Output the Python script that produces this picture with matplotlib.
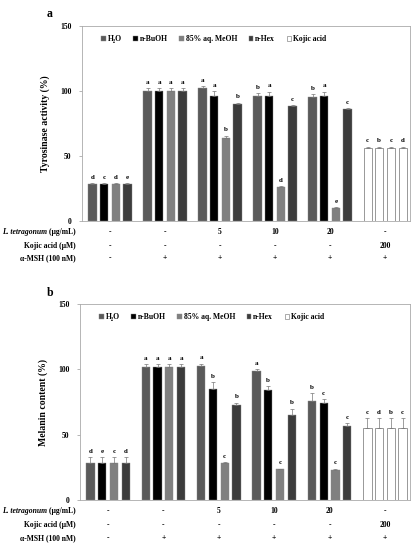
import matplotlib.pyplot as plt
from matplotlib.patches import Patch
from matplotlib.transforms import blended_transform_factory
import numpy as np

# ---- data ----
series = ['H\u2082O', 'n-BuOH', '85% aq. MeOH', 'n-Hex']
colors = ['#5a5a5a', '#000000', '#808080', '#3c3c3c']

# panel a: tyrosinase activity (groups: control, a-MSH, 5, 10, 20)
tyr_h2o = [28, 100, 102, 96, 95]
tyr_buoh = [28, 100, 96, 96, 96]
tyr_meoh = [28, 100, 64, 26, 10]
tyr_hex = [28, 100, 90, 88, 86]
tyr_kojic = [56, 56, 56, 56]
tyr_h2o_err = [1, 2, 1.5, 2.5, 2.5]
tyr_buoh_err = [1, 2, 4, 3.5, 3.5]
tyr_meoh_err = [1, 2, 1.5, 0.8, 0.5]
tyr_hex_err = [1, 2, 1, 1.2, 1]
tyr_kojic_err = [1, 1, 1, 1]
tyr_h2o_let = ['d', 'a', 'a', 'b', 'b']
tyr_buoh_let = ['c', 'a', 'a', 'a', 'a']
tyr_meoh_let = ['d', 'a', 'b', 'd', 'e']
tyr_hex_let = ['e', 'a', 'b', 'c', 'c']
tyr_kojic_let = ['c', 'b', 'c', 'd']

# panel b: melanin content
mel_h2o = [28, 102, 102.5, 99, 76]
mel_buoh = [28, 102, 85, 84.5, 74]
mel_meoh = [28, 102, 28, 23.5, 23]
mel_hex = [28, 102, 73, 65.5, 57]
mel_kojic = [55, 55, 55, 55]
mel_h2o_err = [5, 2, 2, 1, 6]
mel_buoh_err = [5, 2, 5.5, 3, 3.5]
mel_meoh_err = [5, 2, 1, 0.5, 1]
mel_hex_err = [5, 2, 1.5, 4.5, 2]
mel_kojic_err = [8, 8, 8, 8]
mel_h2o_let = ['d', 'a', 'a', 'a', 'b']
mel_buoh_let = ['e', 'a', 'b', 'b', 'c']
mel_meoh_let = ['c', 'a', 'c', 'c', 'c']
mel_hex_let = ['d', 'a', 'b', 'b', 'c']
mel_kojic_let = ['c', 'd', 'b', 'c']

species = 'L. tetragonum'
row_labels = [' (\u03bcg/mL)', 'Kojic acid (\u03bcM)', '\u03b1-MSH (100 nM)']
row_ltet = ['-', '-', '5', '10', '20', '-']
row_kojic = ['-', '-', '-', '-', '-', '200']
row_msh = ['-', '+', '+', '+', '+', '+']

FONT = ['Liberation Serif', 'DejaVu Serif']
plt.rcParams['font.family'] = FONT
plt.rcParams['font.weight'] = 'bold'

fig = plt.figure(figsize=(4.2, 5.5), dpi=100)
renderer = fig.canvas.get_renderer()

step = 0.212
width = 0.15
offsets = (np.arange(4) - 1.5) * step
label_x = 0.181  # right edge of the row labels (figure fraction)


def draw_panel(ax, vals, errs, lets, kvals, kerrs, klets, ylabel):
    x = np.arange(5)
    # extract bars
    for i in range(4):
        ax.bar(x + offsets[i], vals[i], width, color=colors[i],
               edgecolor='#888888', linewidth=0.3, zorder=2)
        ax.errorbar(x + offsets[i], vals[i], yerr=[np.zeros(5), errs[i]],
                    fmt='none', ecolor='#777777', elinewidth=0.5,
                    capsize=1.2, capthick=0.5, zorder=3)
        for xi, v, e, l in zip(x + offsets[i], vals[i], errs[i], lets[i]):
            ax.text(xi, v + e + 2.5, l, ha='center', va='bottom',
                    fontsize=5, fontweight='bold')
    # kojic acid bars
    kx = 5 + offsets
    ax.bar(kx, kvals, width, color='white', edgecolor='#888888',
           linewidth=0.6, zorder=2)
    ax.errorbar(kx, kvals, yerr=[np.zeros(4), kerrs], fmt='none',
                ecolor='#777777', elinewidth=0.5, capsize=1.2,
                capthick=0.5, zorder=3)
    for xi, v, e, l in zip(kx, kvals, kerrs, klets):
        ax.text(xi, v + e + 2.5, l, ha='center', va='bottom',
                fontsize=5, fontweight='bold')

    ax.set_xlim(-0.51, 5.45)
    ax.set_ylim(0, 150)
    ax.set_yticks([0, 50, 100, 150])
    ax.tick_params(axis='y', labelsize=5.5, length=2.5, width=0.5,
                   color='#999999', pad=5)
    ax.set_xticks([])
    for s in ax.spines.values():
        s.set_color('#aaaaaa')
        s.set_linewidth(0.6)
    ax.set_ylabel(ylabel, fontsize=7, fontweight='bold', labelpad=7)

    handles = [Patch(facecolor=c, edgecolor='#888888', linewidth=0.3) for c in colors]
    handles.append(Patch(facecolor='white', edgecolor='#888888', linewidth=0.5))
    ax.legend(handles, series + ['Kojic acid'], ncol=5, loc='upper left',
              bbox_to_anchor=(0.05, 0.97), frameon=False,
              prop={'family': FONT, 'weight': 'bold', 'size': 5.5},
              handlelength=0.6, handleheight=0.6, handletextpad=0.25,
              columnspacing=1.5, borderaxespad=0)

    # treatment table under the axis
    tr = blended_transform_factory(ax.transData, ax.transAxes)
    trl = blended_transform_factory(fig.transFigure, ax.transAxes)
    rows = [row_ltet, row_kojic, row_msh]
    ys = [-0.058, -0.13, -0.193]
    for vals_r, yy in zip(rows, ys):
        for g, v in enumerate(vals_r):
            ax.text(g, yy, v, transform=tr, ha='center', va='center',
                    fontsize=5.5, fontweight='bold')
    for lab, yy in zip(row_labels, ys):
        t = ax.text(label_x, yy, lab, transform=trl, ha='right',
                    va='center', fontsize=5.5, fontweight='bold')
    # italic species name before the unit
    t0 = ax.texts[-3]
    bb = t0.get_window_extent(renderer=renderer)
    ax.text(bb.x0 / fig.bbox.width, ys[0], species, transform=trl,
            ha='right', va='center', fontsize=5.5, fontweight='bold',
            style='italic')


ax1 = fig.add_axes([0.195, 0.5987, 0.781, 0.354])
draw_panel(ax1,
           [tyr_h2o, tyr_buoh, tyr_meoh, tyr_hex],
           [tyr_h2o_err, tyr_buoh_err, tyr_meoh_err, tyr_hex_err],
           [tyr_h2o_let, tyr_buoh_let, tyr_meoh_let, tyr_hex_let],
           tyr_kojic, tyr_kojic_err, tyr_kojic_let, 'Tyrosinase activity (%)')
fig.text(0.112, 0.985, 'a', fontsize=8.5, fontweight='bold', va='top')

ax2 = fig.add_axes([0.19, 0.0909, 0.786, 0.356])
draw_panel(ax2,
           [mel_h2o, mel_buoh, mel_meoh, mel_hex],
           [mel_h2o_err, mel_buoh_err, mel_meoh_err, mel_hex_err],
           [mel_h2o_let, mel_buoh_let, mel_meoh_let, mel_hex_let],
           mel_kojic, mel_kojic_err, mel_kojic_let, 'Melanin content (%)')
fig.text(0.112, 0.478, 'b', fontsize=8.5, fontweight='bold', va='top')

fig.savefig('out.png', dpi=100)
